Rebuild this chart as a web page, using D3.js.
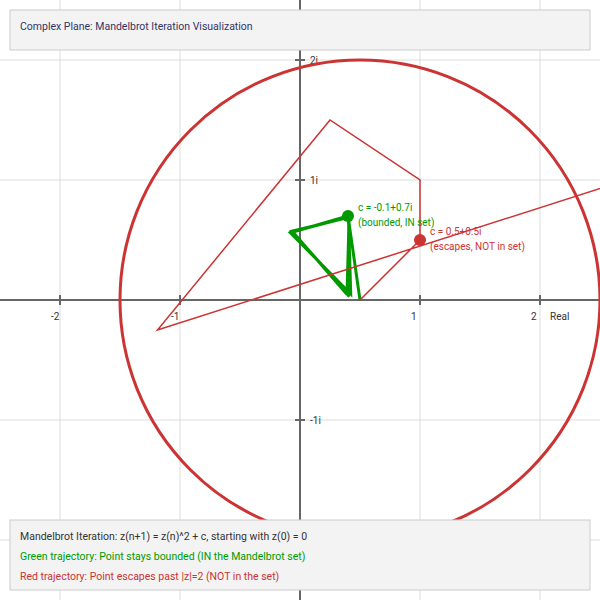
<!DOCTYPE html>
<html><head><meta charset="utf-8">
<script src="https://cdn.jsdelivr.net/npm/d3@7"></script>
<style>body{margin:0;background:#fff}svg{display:block;font-family:Roboto,sans-serif}</style>
</head><body><div id="chart"></div>
<script>
// Axis tick values and labels
const xTicks = [-2, -1, 1, 2];
const xTickLabels = ["-2", "-1", "1", "2"];
const yTicks = [2, 1, -1];
const yTickLabels = ["2i", "1i", "-1i"];
const gridValues = [-2, -1, 1, 2];

// Bounded trajectory c = -0.1+0.7i (z0..z15)
const greenRe = [0, -0.1, -0.58, -0.0772, -0.0966, -0.5698, -0.0960, -0.0938, -0.5666, -0.1046, -0.0919, -0.5661, -0.1083, -0.0908, -0.5665, -0.1095];
const greenIm = [0, 0.7, 0.56, 0.0504, 0.6922, 0.5663, 0.0546, 0.6895, 0.5707, 0.0533, 0.6889, 0.5734, 0.0508, 0.6890, 0.5748, 0.0488];
// Escaping trajectory c = 0.5+0.5i (z0..z5)
const redRe = [0, 0.5, 0.5, -0.25, -1.6875, 3.285];
const redIm = [0, 0.5, 1.0, 1.5, -0.25, 1.34];

const escapeRadius = 2;
const titleText = "Complex Plane: Mandelbrot Iteration Visualization";
const legendLines = [
  "Mandelbrot Iteration: z(n+1) = z(n)^2 + c, starting with z(0) = 0",
  "Green trajectory: Point stays bounded (IN the Mandelbrot set)",
  "Red trajectory: Point escapes past |z|=2 (NOT in the set)"
];
const legendColors = ["#333", "#009900", "#cc3333"];

const W = 600, H = 600;
const green = "#009900", red = "#cc3333";

const svg = d3.select("#chart").append("svg").attr("width", W).attr("height", H);

// axis scales (as labelled) and plotting scales
const xa = d3.scaleLinear().domain([-2.5, 2.5]).range([0, W]);
const x = d3.scaleLinear().domain([-3, 2]).range([0, W]);
const y = d3.scaleLinear().domain([-2.5, 2.5]).range([H, 0]);

// grid
const g = svg.append("g");
g.selectAll(".vg").data(gridValues).join("line")
  .attr("x1", d => xa(d)).attr("x2", d => xa(d)).attr("y1", 0).attr("y2", H)
  .attr("stroke", "#dddddd").attr("stroke-width", 1);
g.selectAll(".hg").data(gridValues).join("line")
  .attr("y1", d => y(d)).attr("y2", d => y(d)).attr("x1", 0).attr("x2", W)
  .attr("stroke", "#dddddd").attr("stroke-width", 1);

// axes
svg.append("line").attr("x1", 0).attr("x2", W).attr("y1", y(0)).attr("y2", y(0))
  .attr("stroke", "#666").attr("stroke-width", 2);
svg.append("line").attr("y1", 0).attr("y2", H).attr("x1", xa(0)).attr("x2", xa(0))
  .attr("stroke", "#666").attr("stroke-width", 2);
svg.selectAll(".xt").data(xTicks).join("line")
  .attr("x1", d => xa(d)).attr("x2", d => xa(d)).attr("y1", y(0) - 5).attr("y2", y(0) + 5)
  .attr("stroke", "#666").attr("stroke-width", 2);
svg.selectAll(".yt").data(yTicks).join("line")
  .attr("y1", d => y(d)).attr("y2", d => y(d)).attr("x1", xa(0) - 5).attr("x2", xa(0) + 5)
  .attr("stroke", "#666").attr("stroke-width", 2);
svg.selectAll(".xl").data(xTicks).join("text")
  .attr("x", d => xa(d) - 9).attr("y", y(0) + 20)
  .attr("font-size", 10).attr("fill", "#333")
  .text((d, i) => xTickLabels[i]);
svg.append("text").attr("x", xa(2) + 10).attr("y", y(0) + 20)
  .attr("font-size", 10).attr("fill", "#333").text("Real");
svg.selectAll(".yl").data(yTicks).join("text")
  .attr("x", xa(0) + 10).attr("y", d => y(d) + 4)
  .attr("font-size", 10).attr("fill", "#333")
  .text((d, i) => yTickLabels[i]);

// escape circle
svg.append("circle").attr("cx", x(0)).attr("cy", y(0))
  .attr("r", x(escapeRadius) - x(0))
  .attr("fill", "none").attr("stroke", red).attr("stroke-width", 3);

const line = d3.line().x(d => x(d[0])).y(d => y(d[1]));
const greenPts = greenRe.map((r, i) => [r, greenIm[i]]);
const redPts = redRe.map((r, i) => [r, redIm[i]]);

svg.append("path").attr("d", line(greenPts)).attr("fill", "none")
  .attr("stroke", green).attr("stroke-width", 3).attr("stroke-linejoin", "miter");
svg.append("path").attr("d", line(redPts)).attr("fill", "none")
  .attr("stroke", red).attr("stroke-width", 1.5);

// c points
const cs = [
  {re: greenRe[1], im: greenIm[1], color: green, l1: "c = -0.1+0.7i", l2: "(bounded, IN set)"},
  {re: redRe[1], im: redIm[1], color: red, l1: "c = 0.5+0.5i", l2: "(escapes, NOT in set)"}
];
svg.selectAll(".cdot").data(cs).join("circle")
  .attr("cx", d => x(d.re)).attr("cy", d => y(d.im)).attr("r", 6).attr("fill", d => d.color);
svg.selectAll(".cl1").data(cs).join("text")
  .attr("x", d => x(d.re) + 10).attr("y", d => y(d.im) - 5)
  .attr("font-size", 10).attr("fill", d => d.color).text(d => d.l1);
svg.selectAll(".cl2").data(cs).join("text")
  .attr("x", d => x(d.re) + 10).attr("y", d => y(d.im) + 10)
  .attr("font-size", 10).attr("fill", d => d.color).text(d => d.l2);

// title box
svg.append("rect").attr("x", 10).attr("y", 10).attr("width", 580).attr("height", 40)
  .attr("fill", "#f3f3f3").attr("stroke", "#cccccc").attr("stroke-width", 1);
svg.append("text").attr("x", 20).attr("y", 30).attr("font-size", 10.5)
  .attr("fill", "#333366").text(titleText);

// legend box
svg.append("rect").attr("x", 10).attr("y", 520).attr("width", 580).attr("height", 70)
  .attr("fill", "#f3f3f3").attr("stroke", "#cccccc").attr("stroke-width", 1);
svg.selectAll(".lg").data(legendLines).join("text")
  .attr("x", 20).attr("y", (d, i) => 540 + i * 20)
  .attr("font-size", 10.5).attr("fill", (d, i) => legendColors[i]).text(d => d);
</script></body></html>
